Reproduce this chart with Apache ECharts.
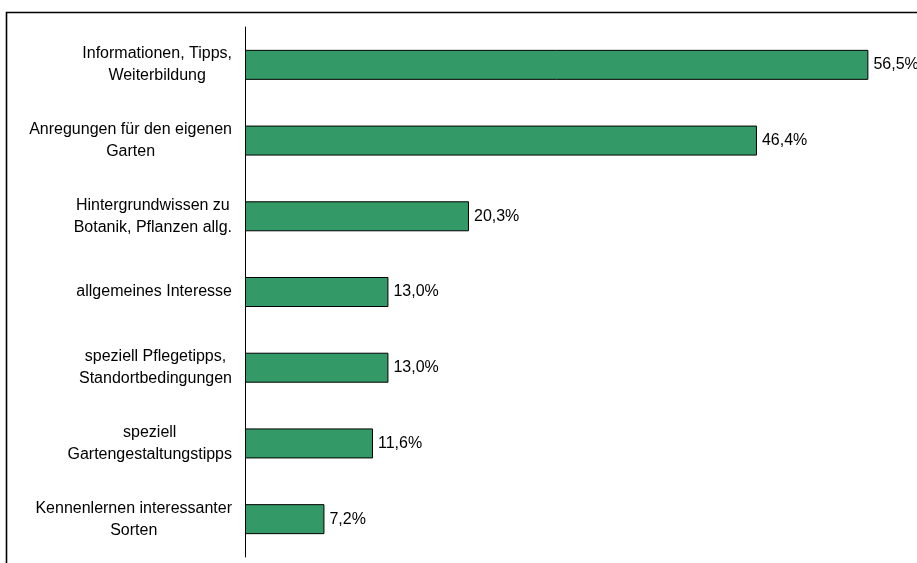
<!DOCTYPE html>
<html>
<head>
<meta charset="utf-8">
<script src="https://cdn.jsdelivr.net/npm/echarts@6/dist/echarts.min.js"></script>
<style>
  html, body { margin: 0; padding: 0; background: #fff; }
  #chart { width: 917px; height: 563px; }
</style>
</head>
<body>
<div id="chart"></div>
<script>
// Categories listed bottom to top (category axis runs upward)
const categories = [
  'Kennenlernen interessanter\nSorten',
  'speziell\nGartengestaltungstipps',
  'speziell Pflegetipps,\nStandortbedingungen',
  'allgemeines Interesse',
  'Hintergrundwissen zu\nBotanik, Pflanzen allg.',
  'Anregungen für den eigenen\nGarten',
  'Informationen, Tipps,\nWeiterbildung'
];
const shares = [7.2, 11.6, 13.0, 13.0, 20.3, 46.4, 56.5];

const chart = echarts.init(document.getElementById('chart'), null, { renderer: 'canvas' });
const font = 'Arial, "Liberation Sans", sans-serif';

chart.setOption({
  animation: false,
  graphic: [{
    type: 'rect',
    shape: { x: 6.5, y: 12.5, width: 920, height: 560 },
    style: { fill: 'none', stroke: '#000', lineWidth: 1.6 },
    silent: true
  }],
  grid: { left: 245, top: 27, width: 662, height: 530, containLabel: false },
  xAxis: {
    type: 'value', min: 0, max: 60, show: false
  },
  yAxis: {
    type: 'category',
    data: categories,
    axisLine: { show: true, lineStyle: { color: '#000', width: 1 } },
    axisTick: { show: false },
    axisLabel: {
      color: '#000', fontFamily: font, fontSize: 16, lineHeight: 22,
      align: 'right', margin: 13,
      // each line centred within the right-aligned label block
      formatter: v => v.split('\n').map(l => '{c|' + l + '}').join('\n'),
      rich: {
        c: { align: 'center', color: '#000', fontFamily: font, fontSize: 16, lineHeight: 22 }
      }
    },
    splitLine: { show: false }
  },
  series: [{
    type: 'bar',
    data: shares,
    barWidth: 30,
    itemStyle: { color: '#339966', borderColor: '#000', borderWidth: 1 },
    label: {
      show: true, position: 'right', distance: 5,
      color: '#000', fontFamily: font, fontSize: 16,
      formatter: p => p.value.toFixed(1).replace('.', ',') + '%'
    }
  }]
});
</script>
</body>
</html>
